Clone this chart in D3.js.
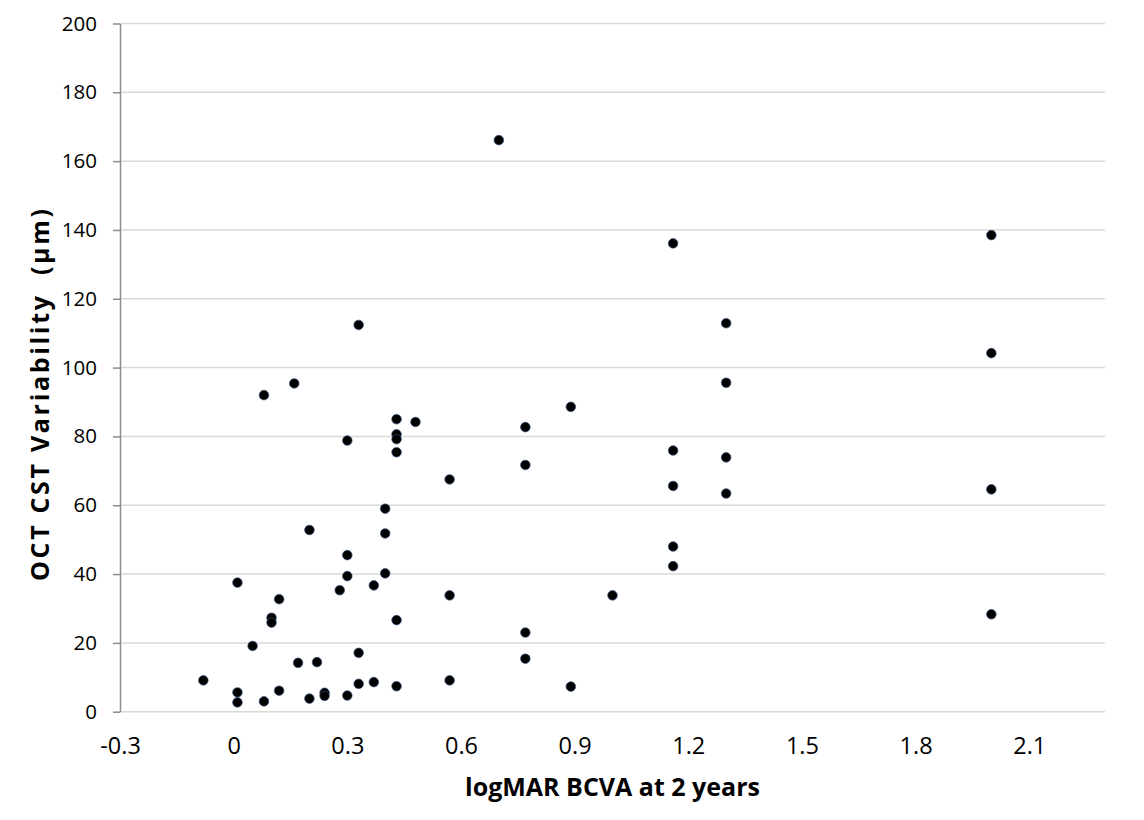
<!DOCTYPE html>
<html>
<meta charset="utf-8">
<title>OCT CST Variability vs logMAR BCVA</title>
<style>
	body {
		margin: 0;
		background: #fff;
	}

	.grid line {
		stroke: #d9d9d9;
		stroke-width: 1.5;
	}

	.tick-label {
		font-family: "Open Sans", sans-serif;
		font-size: 20.5px;
		fill: #000;
	}

	text.x-label {
		font-size: 23.5px;
	}

	.axis-title {
		font: bold 25px "Open Sans", sans-serif;
		fill: #000;
	}

	.dot {
		fill: #000;
		stroke: #34507a;
		stroke-width: 1;
		stroke-opacity: .7;
	}
</style>

<body>
	<svg id="chart"></svg>

	<script src="https://cdn.jsdelivr.net/npm/d3@7"></script>

	<script>
		// logMAR BCVA at 2 years
		var bcva = [
			-0.08, 0.01, 0.01, 0.01, 0.05, 0.08, 0.08, 0.10, 0.10, 0.12, 0.12,
			0.16, 0.17, 0.20, 0.20, 0.22, 0.24, 0.24, 0.28, 0.30, 0.30, 0.30,
			0.30, 0.33, 0.33, 0.33, 0.37, 0.37, 0.40, 0.40, 0.40, 0.43, 0.43,
			0.43, 0.43, 0.43, 0.43, 0.48, 0.57, 0.57, 0.57, 0.70, 0.77, 0.77,
			0.77, 0.77, 0.89, 0.89, 1.00, 1.16, 1.16, 1.16, 1.16, 1.16, 1.30,
			1.30, 1.30, 1.30, 2.00, 2.00, 2.00, 2.00
		];

		// OCT CST variability (µm)
		var cstVar = [
			9.1, 37.5, 5.6, 2.7, 19.1, 3.0, 92.0, 27.3, 25.9, 32.7, 6.1,
			95.4, 14.2, 52.8, 3.8, 14.4, 5.5, 4.6, 35.3, 45.5, 39.4, 78.8,
			4.7, 112.4, 17.1, 8.1, 36.7, 8.6, 51.8, 40.2, 59.0, 85.0, 80.6,
			79.2, 75.4, 26.6, 7.4, 84.2, 67.5, 33.8, 9.1, 166.1, 82.7, 71.7,
			23.0, 15.4, 88.6, 7.3, 33.8, 136.1, 75.9, 65.6, 48.0, 42.3, 112.9,
			95.6, 73.9, 63.4, 138.5, 104.2, 64.6, 28.3
		];

		var xTicks = [-0.3, 0, 0.3, 0.6, 0.9, 1.2, 1.5, 1.8, 2.1],
			xTickLabels = ["-0.3", "0", "0.3", "0.6", "0.9", "1.2", "1.5", "1.8", "2.1"];

		var yTicks = [0, 20, 40, 60, 80, 100, 120, 140, 160, 180, 200];

		var xTitle = "logMAR BCVA at 2 years",
			yTitle = "OCT CST Variability\u00a0 (\u00b5m)";

		var width = 1144,
			height = 820,
			plot = { left: 120, right: 1105, top: 23.5, bottom: 711.7 };

		var svg = d3.select("#chart")
			.attr("width", width)
			.attr("height", height);

		var x = d3.scaleLinear()
			.domain([-0.3, 2.3])
			.range([plot.left, plot.right]);

		var y = d3.scaleLinear()
			.domain([0, 200])
			.range([plot.bottom, plot.top]);

		// horizontal gridlines
		svg.append("g")
			.attr("class", "grid")
			.selectAll("line")
			.data(yTicks)
			.enter().append("line")
			.attr("x1", plot.left)
			.attr("x2", plot.right)
			.attr("y1", function (d) { return y(d); })
			.attr("y2", function (d) { return y(d); });

		// y axis (left), grey line with outward ticks
		var yAxis = svg.append("g")
			.attr("transform", "translate(" + plot.left + ",0)")
			.call(d3.axisLeft(y).tickValues(yTicks).tickSize(7).tickSizeOuter(0).tickPadding(16));

		yAxis.select(".domain")
			.attr("stroke", "#8c8c8c")
			.attr("stroke-width", 1.5);
		yAxis.selectAll(".tick line")
			.attr("stroke", "#8c8c8c")
			.attr("stroke-width", 1.5);
		yAxis.selectAll(".tick text")
			.attr("class", "tick-label")
			.attr("fill", null);
		yAxis.attr("font-size", null).attr("font-family", null);

		// x axis labels only (no axis line)
		var xAxis = svg.append("g")
			.attr("transform", "translate(0," + plot.bottom + ")")
			.call(d3.axisBottom(x).tickValues(xTicks).tickSize(0).tickPadding(26)
				.tickFormat(function (d, i) { return xTickLabels[i]; }));

		xAxis.select(".domain").remove();
		xAxis.selectAll(".tick text")
			.attr("class", "tick-label x-label")
			.attr("fill", null);
		xAxis.attr("font-size", null).attr("font-family", null);

		// points
		var points = d3.zip(bcva, cstVar);

		svg.append("g")
			.selectAll(".dot")
			.data(points)
			.enter().append("circle")
			.attr("class", "dot")
			.attr("r", 4.8)
			.attr("cx", function (d) { return x(d[0]); })
			.attr("cy", function (d) { return y(d[1]); });

		// axis titles
		svg.append("text")
			.attr("class", "axis-title")
			.attr("x", (plot.left + plot.right) / 2)
			.attr("y", 796)
			.attr("text-anchor", "middle")
			.text(xTitle);

		svg.append("text")
			.attr("class", "axis-title")
			.attr("transform", "translate(49,395) rotate(-90)")
			.attr("text-anchor", "middle")
			.attr("textLength", 372)
			.attr("lengthAdjust", "spacing")
			.text(yTitle);
	</script>
</body>

</html>
